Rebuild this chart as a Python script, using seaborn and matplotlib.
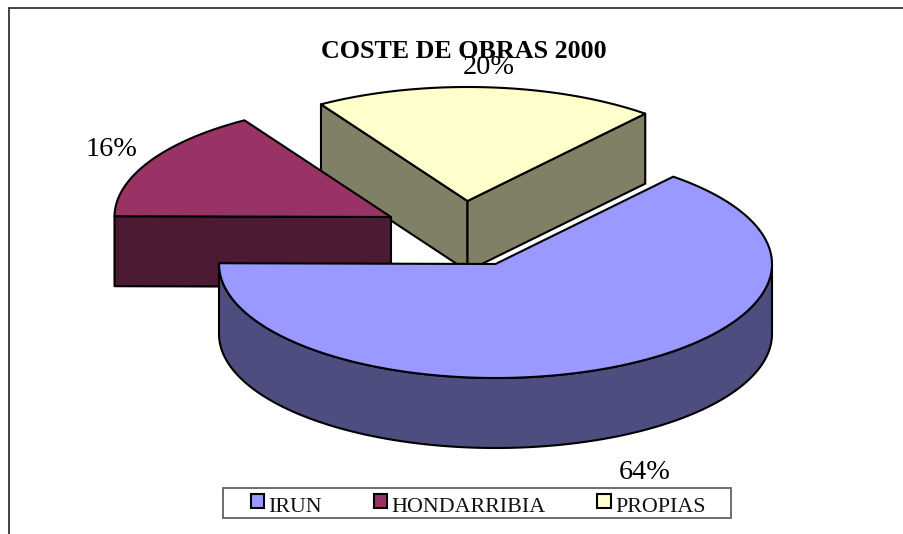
import numpy as np
import matplotlib
matplotlib.use("Agg")
import matplotlib.pyplot as plt
from matplotlib.patches import Patch, Rectangle
import seaborn as sns

# Data
categories = ["IRUN", "HONDARRIBIA", "PROPIAS"]
values = [64, 16, 20]
labels = ["64%", "16%", "20%"]
title = "COSTE DE OBRAS 2000"

# Styling
top_colors = ["#9999FF", "#993366", "#FFFFCC"]
side_colors = ["#4D4D80", "#4D1A33", "#808066"]
sns.set_theme(style="white")
plt.rcParams["font.family"] = ["Liberation Serif", "DejaVu Serif"]
top_pal = sns.color_palette(top_colors)
side_pal = sns.color_palette(side_colors)

START = 50.0
RX, RY, DEPTH = 276.5, 114.0, 70.0
centers = [(495.5, 264.0), (391.0, 217.0), (467.5, 201.0)]
label_pos = [(644.5, 472.5), (111.5, 149), (489, 67)]
LW = 1.5

fig = plt.figure(figsize=(9.04, 5.34), dpi=100)
ax = fig.add_axes([0, 0, 1, 1])
ax.set_xlim(0, 904)
ax.set_ylim(534, 0)
ax.axis("off")

# Chart frame: only top and left are visible in the reference
ax.plot([9, 9, 904], [534, 7.5, 7.5], color="#333333", lw=1.3, zorder=1, solid_joinstyle="miter")

# Slice angles, clockwise from START
fracs = np.array(values, dtype=float) / sum(values)
edges = START - 360 * np.concatenate([[0], np.cumsum(fracs)])


def arc(c, a0, a1, dy=0.0):
    t = np.radians(np.linspace(a0, a1, 160))
    return c[0] + RX * np.cos(t), c[1] - RY * np.sin(t) + dy


def poly(xs, ys, color, z):
    ax.fill(xs, ys, facecolor=color, edgecolor="black", lw=LW, zorder=z, joinstyle="round")


def point(c, a):
    t = np.radians(a)
    return c[0] + RX * np.cos(t), c[1] - RY * np.sin(t)


def wall(p, q, color, z):
    poly([p[0], q[0], q[0], p[0]], [p[1], q[1], q[1] + DEPTH, p[1] + DEPTH], color, z)


draw_order = [2, 1, 0]
for n, i in enumerate(draw_order):
    c = centers[i]
    a0, a1 = edges[i], edges[i + 1]
    z = 3 + n * 3
    p0, p1 = point(c, a0), point(c, a1)
    # radial walls that face the viewer
    if i == 2:
        wall(p0, c, side_pal[i], z)
        wall(c, p1, side_pal[i], z)
    if i == 1:
        wall(p0, c, side_pal[i], z)
    # outer rim for the near side of the big slice
    if i == 0:
        x1, y1 = arc(c, -180, 0, DEPTH)
        x2, y2 = arc(c, 0, -180)
        poly(np.r_[x1, x2], np.r_[y1, y2], side_pal[i], z)
    # top face
    xa, ya = arc(c, a0, a1)
    poly(np.r_[c[0], xa], np.r_[c[1], ya], top_pal[i], z + 1)

# Texts
ax.text(463.5, 52, title, ha="center", va="center", fontsize=18.7, fontweight="bold", color="black", zorder=20)
for lab, (x, y) in zip(labels, label_pos):
    ax.text(x, y, lab, ha="center", va="center", fontsize=20.3, color="black", zorder=20)

# Legend
ax.add_patch(Rectangle((223.5, 488), 507.5, 30, facecolor="white", edgecolor="#555555", lw=1.2, zorder=15))
handles = [Patch(facecolor=col, edgecolor="black", lw=1.5) for col in top_pal]
leg = ax.legend(handles, categories, ncol=3, frameon=False, fontsize=15.8,
                handlelength=0.6, handleheight=0.6, handletextpad=0.2, columnspacing=2.36,
                loc="center left", bbox_to_anchor=(251 / 904, 1 - 503.5 / 534), bbox_transform=ax.transAxes,
                borderpad=0, borderaxespad=0, labelcolor="#111111")
leg.set_zorder(21)
for t in leg.get_texts():
    t.set_y(-4)

fig.savefig("out.png", dpi=100, facecolor="white")
